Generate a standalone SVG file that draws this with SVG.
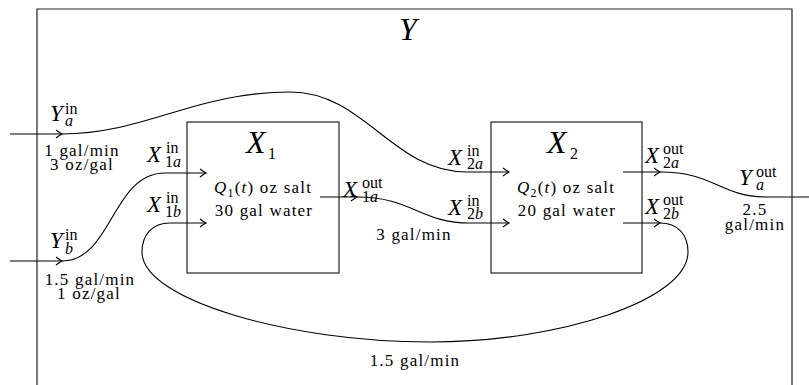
<svg xmlns="http://www.w3.org/2000/svg" width="809" height="385" viewBox="0 0 809 385">
<style>
text{font-family:"Liberation Serif","Times New Roman",serif;fill:#000}
.big{font-size:32px;font-style:italic}
.L{font-size:23px;font-style:italic}
.s{font-size:16px;font-style:normal}
.i{font-style:italic}
.t{font-size:17px;letter-spacing:1.2px}
.box{fill:#fff;stroke:#222;stroke-width:1.2}
.ln{fill:none;stroke:#000;stroke-width:1.1}
</style>
<defs>
<marker id="ar" viewBox="-8 -5 9 10" refX="0" refY="0" markerWidth="9" markerHeight="10" markerUnits="userSpaceOnUse" orient="auto" overflow="visible">
<path d="M-6,-4 Q-2,-1 0,0 Q-2,1 -6,4" fill="none" stroke="#000" stroke-width="1.1"/>
</marker>
</defs>
<g id="outer">
<path d="M37,385 V9 H792 V385" fill="none" stroke="#222" stroke-width="1.2"/>
<text class="big" x="408" y="40" text-anchor="middle">Y</text>
</g>
<g id="X1">
<rect class="box" x="187" y="122" width="152" height="151"/>
<text class="big" x="246" y="153">X<tspan class="s" x="268" y="159" font-size="22px">1</tspan></text>
<text class="t" x="263" y="193" text-anchor="middle"><tspan class="i">Q</tspan><tspan dy="4" font-size="12px">1</tspan><tspan dy="-4">(</tspan><tspan class="i">t</tspan>) oz salt</text>
<text class="t" x="264" y="216" text-anchor="middle">30 gal water</text>
</g>
<g id="X2">
<rect class="box" x="491" y="122" width="151" height="151"/>
<text class="big" x="547" y="153">X<tspan class="s" x="570" y="159" font-size="22px">2</tspan></text>
<text class="t" x="566" y="193" text-anchor="middle"><tspan class="i">Q</tspan><tspan dy="4" font-size="12px">2</tspan><tspan dy="-4">(</tspan><tspan class="i">t</tspan>) oz salt</text>
<text class="t" x="567" y="216" text-anchor="middle">20 gal water</text>
</g>
<g id="connectors">
<path class="ln" d="M10,134 H62" marker-end="url(#ar)"/>
<path class="ln" d="M62,134 C145,134 195,92 290,92 C365,92 392,172 467,172 H509" marker-end="url(#ar)"/>
<path class="ln" d="M10,261 H62" marker-end="url(#ar)"/>
<path class="ln" d="M62,261 C112,261 112,173 165,173 H206" marker-end="url(#ar)"/>
<path class="ln" d="M320,197 H357" marker-end="url(#ar)"/>
<path class="ln" d="M357,197 C412,197 420,223 470,223 H509" marker-end="url(#ar)"/>
<path class="ln" d="M623,172 H660" marker-end="url(#ar)"/>
<path class="ln" d="M660,172 C715,172 720,197 767,197 H809"/>
<path class="ln" d="M623,223 H660" marker-end="url(#ar)"/>
<path class="ln" d="M660,223 C678,223 688,235 688,252 C688,300 560,342 430,342 C290,342 142,300 142,252 C142,235 152,223 170,223 H206" marker-end="url(#ar)"/>
</g>
<g id="labels">
<text class="L" x="50" y="121">Y<tspan class="s" x="65" y="114">in</tspan><tspan class="s i" x="65" y="126">a</tspan></text>
<text class="t" text-anchor="middle"><tspan x="82" y="156">1 gal/min</tspan><tspan x="82" y="170">3 oz/gal</tspan></text>
<text class="L" x="50" y="248">Y<tspan class="s" x="65" y="240">in</tspan><tspan class="s i" x="65" y="254">b</tspan></text>
<text class="t" text-anchor="middle"><tspan x="90" y="285">1.5 gal/min</tspan><tspan x="89" y="299">1 oz/gal</tspan></text>
<text class="L" x="147" y="162">X<tspan class="s" x="166" y="153">in</tspan><tspan class="s" x="165" y="167">1</tspan><tspan class="s i">a</tspan></text>
<text class="L" x="147" y="212">X<tspan class="s" x="166" y="203">in</tspan><tspan class="s" x="165" y="217">1</tspan><tspan class="s i">b</tspan></text>
<text class="L" x="343" y="197">X<tspan class="s" x="362" y="188">out</tspan><tspan class="s" x="362" y="202">1</tspan><tspan class="s i">a</tspan></text>
<text class="t" x="414" y="240" text-anchor="middle">3 gal/min</text>
<text class="L" x="448" y="165">X<tspan class="s" x="467" y="156">in</tspan><tspan class="s" x="467" y="169">2</tspan><tspan class="s i">a</tspan></text>
<text class="L" x="448" y="215">X<tspan class="s" x="467" y="206">in</tspan><tspan class="s" x="467" y="219">2</tspan><tspan class="s i">b</tspan></text>
<text class="L" x="645" y="163">X<tspan class="s" x="663" y="154">out</tspan><tspan class="s" x="663" y="168">2</tspan><tspan class="s i">a</tspan></text>
<text class="L" x="645" y="214">X<tspan class="s" x="663" y="205">out</tspan><tspan class="s" x="663" y="219">2</tspan><tspan class="s i">b</tspan></text>
<text class="L" x="739" y="185">Y<tspan class="s" x="756" y="177">out</tspan><tspan class="s i" x="756" y="190">a</tspan></text>
<text class="t" text-anchor="middle"><tspan x="755" y="215">2.5</tspan><tspan x="755" y="230">gal/min</tspan></text>
<text class="t" x="415" y="366" text-anchor="middle">1.5 gal/min</text>
</g>
</svg>
